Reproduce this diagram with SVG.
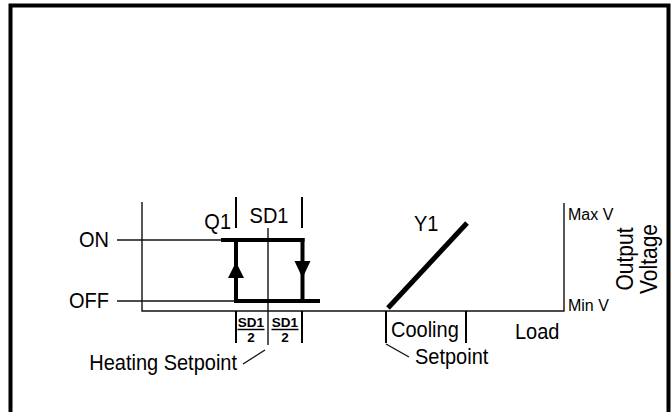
<svg xmlns="http://www.w3.org/2000/svg" width="671" height="412" viewBox="0 0 671 412">
<style>
text{font-family:"Liberation Sans",Arial,sans-serif;fill:#000}
.t{font-size:20px}
.s{font-size:16px}
.b{font-size:13.5px;font-weight:bold}
.thin{stroke:#111;stroke-width:1.4;fill:none}
.tick{stroke:#000;stroke-width:2;fill:none}
.thick{stroke:#000;stroke-width:4;fill:none;stroke-linecap:butt}
</style>
<rect width="671" height="412" fill="#fff"/>
<path d="M10.5,412 V5.5 H668.5 V412" fill="none" stroke="#000" stroke-width="4"/>
<g id="connectors">
<path class="thin" d="M142,202 V311 H564 V203"/>
<path class="thin" d="M117,240 H222"/>
<path class="thin" d="M117,301 H236"/>
<path class="thin" d="M268,228 V345"/>
<path class="thin" d="M243,364 L265,350"/>
<path class="thin" d="M386,344 L409,357"/>
</g>
<g id="q1-hysteresis">
<path class="thick" d="M221,240 H304.5"/>
<path class="thick" d="M236,238 V303"/>
<path class="thick" d="M234,301 H320"/>
<path class="thick" d="M302.5,238 V303"/>
<polygon points="236,262 228,278 244,278" fill="#000"/>
<polygon points="302.5,278 294.5,261 310.5,261" fill="#000"/>
<path class="tick" d="M236,197 V228 M302,197 V228 M236,311 V343 M302,311 V343"/>
</g>
<g id="y1-line">
<path d="M388,308 L467,223" stroke="#000" stroke-width="5" fill="none"/>
<path class="tick" d="M386,311 V343 M466,311 V343"/>
</g>
<g id="labels">
<text class="t" transform="translate(109 247) scale(1 1.08)" text-anchor="end">ON</text>
<text class="t" transform="translate(109 308) scale(1 1.08)" text-anchor="end">OFF</text>
<text class="t" transform="translate(231 229) scale(1 1.08)" text-anchor="end">Q1</text>
<text class="t" transform="translate(269 223) scale(1 1.08)" text-anchor="middle">SD1</text>
<text class="t" transform="translate(414 231) scale(1 1.08)">Y1</text>
<text class="t" transform="translate(237 370) scale(1 1.08)" text-anchor="end">Heating Setpoint</text>
<text class="t" transform="translate(391 337) scale(1 1.08)">Cooling</text>
<text class="t" transform="translate(415 364) scale(1 1.08)">Setpoint</text>
<text class="t" transform="translate(515 339) scale(1 1.08)">Load</text>
<text class="s" transform="translate(568 220) scale(1 1.08)">Max V</text>
<text class="s" transform="translate(568 311) scale(1 1.08)">Min V</text>
<text class="t" transform="translate(633 259) rotate(-90) scale(1 1.1)" text-anchor="middle" style="font-size:21px">Output</text>
<text class="t" transform="translate(657 259) rotate(-90) scale(1 1.1)" text-anchor="middle" style="font-size:21px">Voltage</text>
</g>
<g id="fraction-left">
<text class="b" x="251" y="327" text-anchor="middle">SD1</text>
<path d="M237.5,329.5 H264.5" stroke="#000" stroke-width="1.5"/>
<text class="b" x="251" y="342" text-anchor="middle">2</text>
</g>
<g id="fraction-right">
<text class="b" x="285" y="327" text-anchor="middle">SD1</text>
<path d="M271.5,329.5 H298.5" stroke="#000" stroke-width="1.5"/>
<text class="b" x="285" y="342" text-anchor="middle">2</text>
</g>
</svg>
